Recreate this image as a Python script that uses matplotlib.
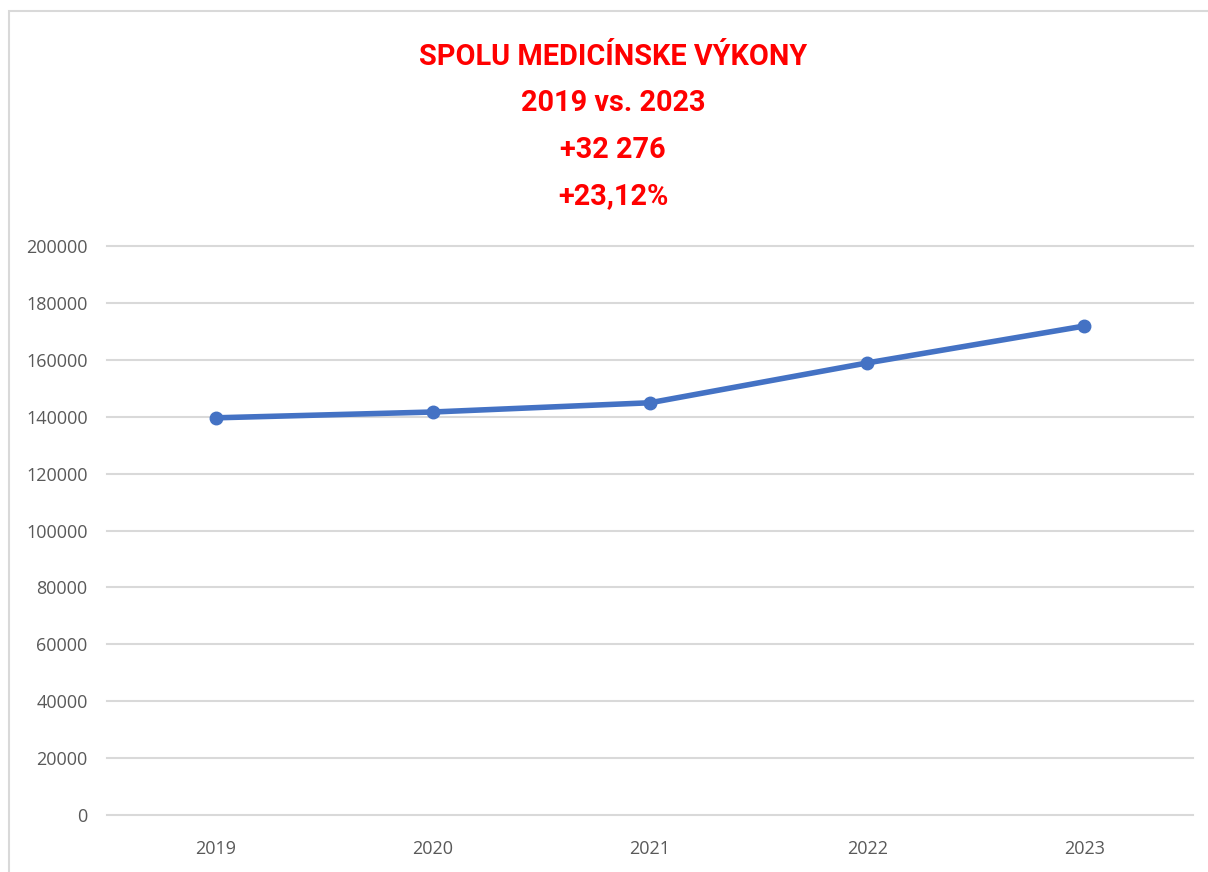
import matplotlib
matplotlib.use("Agg")
import matplotlib.pyplot as plt
import matplotlib.patches as mpatches
import numpy as np

# ── Data ─────────────────────────────────────────────────────────────────────
years = ["2019", "2020", "2021", "2022", "2023"]
totals = [139602, 141650, 144900, 158900, 171878]
yticks = [0, 20000, 40000, 60000, 80000, 100000, 120000, 140000, 160000, 180000, 200000]
title_lines = ["SPOLU MEDICÍNSKE VÝKONY", "2019 vs. 2023", "+32 276", "+23,12%"]

TITLE_FONT = ["Roboto", "DejaVu Sans"]
TICK_FONT = ["Open Sans", "DejaVu Sans"]
W, H = 1208, 872

fig = plt.figure(figsize=(W / 100, H / 100), dpi=100)
fig.patch.set_facecolor("white")

# outer chart frame (light gray, runs off right/bottom edges)
fig.patches.append(mpatches.Rectangle(
    (9 / W, -0.05), 1.2, 1 - 11 / H + 0.05, transform=fig.transFigure,
    fill=False, edgecolor="#D9D9D9", linewidth=1.5))

ax = fig.add_axes([107 / W, 1 - 815 / H, (1193 - 107) / W, (815 - 246) / H])
x = np.arange(len(years))
ax.plot(x, totals, color="#4472C4", linewidth=4, marker="o",
        markersize=9, solid_capstyle="round", zorder=3)

ax.set_xlim(-0.5, len(years) - 0.5)
ax.set_ylim(0, 200000)
ax.set_yticks(yticks)
ax.set_yticklabels([str(v) for v in yticks], family=TICK_FONT, fontsize=13, color="#595959")
ax.set_xticks(x)
ax.set_xticklabels(years, family=TICK_FONT, fontsize=13, color="#595959")
ax.tick_params(length=0)
ax.tick_params(axis="y", pad=14)
ax.tick_params(axis="x", pad=18)
ax.grid(axis="y", color="#D9D9D9", linewidth=1.5, zorder=0)
for gl in ax.get_ygridlines():
    gl.set_clip_on(False)
for s in ax.spines.values():
    s.set_visible(False)

for i, line in enumerate(title_lines):
    fig.text(613 / W, 1 - (57 + i * 46.3) / H, line, ha="center", va="center",
             family=TITLE_FONT, fontsize=20.8, fontweight="bold", color="#FF0000")

fig.savefig("out.png", dpi=100, facecolor="white")
